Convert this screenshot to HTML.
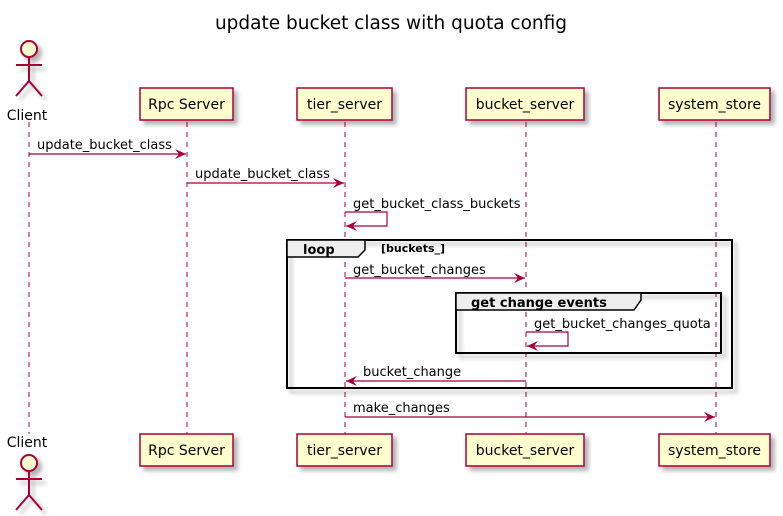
<!DOCTYPE html>
<html><head><meta charset="utf-8"><style>body{margin:0;background:#fff}svg{display:block}text{font-family:"DejaVu Sans","Liberation Sans",sans-serif}</style></head><body>
<svg width="783" height="516" viewBox="0 0 783 516" xmlns="http://www.w3.org/2000/svg">
<defs>
<filter id="sh" x="-20%" y="-20%" width="150%" height="150%"><feDropShadow dx="4" dy="4" stdDeviation="2" flood-color="#000" flood-opacity="0.3"/></filter>
<marker id="ar" markerWidth="12" markerHeight="10" refX="11" refY="5" orient="auto" markerUnits="userSpaceOnUse"><path d="M0,0 L11,5 L0,10 L4,5 Z" fill="#A80036"/></marker>
</defs>
<text x="391" y="29" text-anchor="middle" font-size="18.5" fill="#000">update bucket class with quota config</text>
<g stroke="#A80036" stroke-dasharray="5,5" stroke-width="1">
<line x1="29" y1="122" x2="29" y2="434"/><line x1="187" y1="122" x2="187" y2="434"/><line x1="345" y1="122" x2="345" y2="434"/><line x1="526" y1="122" x2="526" y2="434"/><line x1="716" y1="122" x2="716" y2="434"/>
</g>
<g font-size="14" fill="#000">
<g filter="url(#sh)" fill="#FEFECE" stroke="#A80036" stroke-width="1.5">
<rect x="140" y="88" width="93" height="32"/><rect x="297" y="88" width="95" height="32"/><rect x="466" y="88" width="118" height="32"/><rect x="659" y="88" width="111" height="32"/>
<rect x="140" y="434" width="93" height="32"/><rect x="297" y="434" width="95" height="32"/><rect x="466" y="434" width="118" height="32"/><rect x="659" y="434" width="111" height="32"/>
</g>
<text x="186.5" y="109" text-anchor="middle">Rpc Server</text><text x="344.5" y="109" text-anchor="middle">tier_server</text><text x="525" y="109" text-anchor="middle">bucket_server</text><text x="714.5" y="109" text-anchor="middle">system_store</text>
<text x="186.5" y="455" text-anchor="middle">Rpc Server</text><text x="344.5" y="455" text-anchor="middle">tier_server</text><text x="525" y="455" text-anchor="middle">bucket_server</text><text x="714.5" y="455" text-anchor="middle">system_store</text>
<text x="27" y="120" text-anchor="middle">Client</text><text x="27" y="447" text-anchor="middle">Client</text>
</g>
<g filter="url(#sh)" stroke="#A80036" stroke-width="2" fill="none">
<circle cx="29" cy="49" r="8" fill="#FEFECE"/><path d="M29 57V81M16 65H42M29 81L16 96M29 81L42 96"/>
<circle cx="29" cy="463" r="8" fill="#FEFECE"/><path d="M29 471V495M16 479H42M29 495L16 510M29 495L42 510"/>
</g>
<g filter="url(#sh)" fill="none" stroke="#000" stroke-width="2">
<rect x="287" y="240" width="445" height="148"/>
<rect x="456" y="293" width="265" height="60"/>
</g>
<path d="M287 240H365V250L358 257H287Z" fill="#EEEEEE" stroke="#000" stroke-width="1.5"/>
<path d="M456 293H641V300L634 310H456Z" fill="#EEEEEE" stroke="#000" stroke-width="1.5"/>
<text x="303" y="254" font-size="13" font-weight="bold">loop</text>
<text x="381" y="252" font-size="11" font-weight="bold">[buckets_]</text>
<text x="471" y="307" font-size="13" font-weight="bold">get change events</text>
<g stroke="#A80036" stroke-width="1.2" fill="none" marker-end="url(#ar)">
<line x1="29" y1="154" x2="186" y2="154"/>
<line x1="187" y1="183" x2="344" y2="183"/>
<path d="M345 212H387V226H346"/>
<line x1="345" y1="278" x2="525" y2="278"/>
<path d="M526 332H568V346H527"/>
<line x1="526" y1="381" x2="346" y2="381"/>
<line x1="345" y1="417" x2="715" y2="417"/>
</g>
<g font-size="13" fill="#000">
<text x="37" y="149">update_bucket_class</text>
<text x="195" y="178">update_bucket_class</text>
<text x="353" y="208">get_bucket_class_buckets</text>
<text x="353" y="274">get_bucket_changes</text>
<text x="534" y="328">get_bucket_changes_quota</text>
<text x="363" y="376">bucket_change</text>
<text x="353" y="412">make_changes</text>
</g>
</svg>
</body></html>
